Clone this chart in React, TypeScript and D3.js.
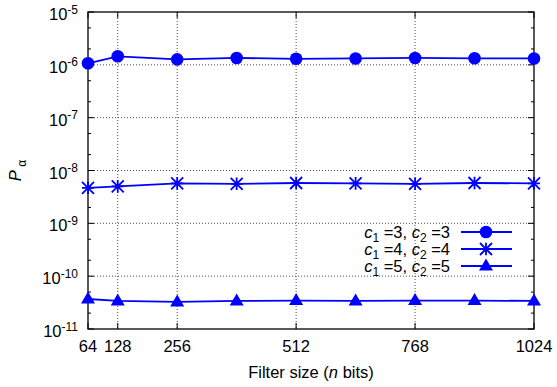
import { useEffect, useRef } from 'react'
import * as d3 from 'd3'

// filter sizes (n bits)
const sizes = [64, 128, 256, 384, 512, 640, 768, 896, 1024]
const xTicks = [64, 128, 256, 512, 768, 1024]
const yExponents = [-11, -10, -9, -8, -7, -6, -5]

// P_alpha for each (c1, c2)
const p33 = [1.07e-6, 1.45e-6, 1.27e-6, 1.35e-6, 1.3e-6, 1.32e-6, 1.35e-6, 1.33e-6, 1.32e-6]
const p44 = [4.7e-9, 5.0e-9, 5.7e-9, 5.6e-9, 5.8e-9, 5.7e-9, 5.6e-9, 5.8e-9, 5.7e-9]
const p55 = [3.7e-11, 3.4e-11, 3.25e-11, 3.4e-11, 3.45e-11, 3.4e-11, 3.45e-11, 3.45e-11, 3.4e-11]

const seriesLabels = [
  { c1: '3', c2: '3' },
  { c1: '4', c2: '4' },
  { c1: '5', c2: '5' }
]

const W = 557
const H = 387
const BLUE = '#0000ff'
const FONT = '"Liberation Sans", Arial, Helvetica, sans-serif'
const FS = 16.5
const FS_SMALL = 12

export default function App() {
  const svgRef = useRef<SVGSVGElement>(null)

  useEffect(() => {
    if (!svgRef.current) return
    const svg = d3.select(svgRef.current)
    svg.selectAll('*').remove()

    const left = 88, right = 534, top = 12, bottom = 329

    const x = d3.scaleLinear().domain([64, 1024]).range([left, right])
    const y = d3.scaleLog().domain([1e-11, 1e-5]).range([bottom, top])

    const g = svg.append('g').attr('font-family', FONT)

    // grid
    xTicks.slice(1, -1).forEach(t => {
      g.append('line')
        .attr('x1', x(t)).attr('x2', x(t))
        .attr('y1', top).attr('y2', bottom)
        .attr('stroke', '#222').attr('stroke-width', 0.8)
        .attr('stroke-dasharray', '1,2')
    })
    yExponents.slice(1, -1).forEach(e => {
      g.append('line')
        .attr('x1', left).attr('x2', right)
        .attr('y1', y(Math.pow(10, e))).attr('y2', y(Math.pow(10, e)))
        .attr('stroke', '#222').attr('stroke-width', 0.8)
        .attr('stroke-dasharray', '1,2')
    })

    // ticks (inward, mirrored)
    const tick = (x1: number, y1: number, x2: number, y2: number) =>
      g.append('line')
        .attr('x1', x1).attr('y1', y1).attr('x2', x2).attr('y2', y2)
        .attr('stroke', '#000').attr('stroke-width', 1)

    yExponents.forEach(e => {
      const yy = y(Math.pow(10, e))
      tick(left, yy, left + 6, yy)
      tick(right, yy, right - 6, yy)
      if (e < -5) {
        ;[2, 5].forEach(m => {
          const ym = y(m * Math.pow(10, e))
          tick(left, ym, left + 3, ym)
          tick(right, ym, right - 3, ym)
        })
      }
    })
    xTicks.forEach(t => {
      tick(x(t), bottom, x(t), bottom - 6)
      tick(x(t), top, x(t), top + 6)
    })

    // frame
    g.append('rect')
      .attr('x', left).attr('y', top)
      .attr('width', right - left).attr('height', bottom - top)
      .attr('fill', 'none').attr('stroke', '#000').attr('stroke-width', 1.3)

    // y tick labels
    yExponents.forEach(e => {
      const t = g.append('text')
        .attr('x', 78).attr('y', y(Math.pow(10, e)) + 8)
        .attr('text-anchor', 'end')
        .attr('font-size', FS)
        .attr('fill', '#000')
      t.append('tspan').text('10')
      t.append('tspan').attr('dy', -6.5).attr('font-size', FS_SMALL).text(String(e))
    })

    // x tick labels
    xTicks.forEach(t => {
      g.append('text')
        .attr('x', x(t)).attr('y', 352)
        .attr('text-anchor', 'middle')
        .attr('font-size', FS)
        .attr('fill', '#000')
        .text(String(t))
    })

    // axis titles
    const xl = g.append('text')
      .attr('x', (left + right) / 2).attr('y', 378)
      .attr('text-anchor', 'middle')
      .attr('font-size', FS)
    xl.append('tspan').text('Filter size (')
    xl.append('tspan').attr('font-style', 'italic').text('n')
    xl.append('tspan').text(' bits)')

    const yl = g.append('text')
      .attr('transform', `translate(21,${(top + bottom) / 2}) rotate(-90)`)
      .attr('text-anchor', 'middle')
      .attr('font-size', FS)
    yl.append('tspan').attr('font-style', 'italic').text('P')
    yl.append('tspan').attr('dy', 5).attr('font-size', FS_SMALL).text(' α')

    // markers
    const circle = (sel: d3.Selection<SVGGElement, unknown, null, undefined>) =>
      sel.append('circle').attr('r', 6.3).attr('fill', BLUE)
    const star = (sel: d3.Selection<SVGGElement, unknown, null, undefined>) =>
      sel.append('path')
        .attr('d', 'M-6,0H6M0,-6.3V6.3M-6,-6L6,6M-6,6L6,-6')
        .attr('stroke', BLUE).attr('stroke-width', 1.8).attr('fill', 'none')
    const tri = (sel: d3.Selection<SVGGElement, unknown, null, undefined>) =>
      sel.append('path').attr('d', 'M0,-7.5L7,4.5L-7,4.5Z').attr('fill', BLUE)

    const series = [
      { values: p33, marker: circle },
      { values: p44, marker: star },
      { values: p55, marker: tri }
    ]

    const line = d3.line<[number, number]>().x(d => x(d[0])).y(d => y(d[1]))

    series.forEach(s => {
      const pts = sizes.map((n, i) => [n, s.values[i]] as [number, number])
      g.append('path')
        .attr('d', line(pts))
        .attr('fill', 'none')
        .attr('stroke', BLUE)
        .attr('stroke-width', 1.8)
      pts.forEach(p => {
        const mg = g.append('g').attr('transform', `translate(${x(p[0])},${y(p[1])})`)
        s.marker(mg)
      })
    })

    // legend
    seriesLabels.forEach((lab, i) => {
      const ly = 232 + i * 17
      const t = g.append('text')
        .attr('x', 450).attr('y', ly + 5.5)
        .attr('text-anchor', 'end')
        .attr('font-size', FS)
      t.append('tspan').attr('font-style', 'italic').text('c')
      t.append('tspan').attr('font-size', FS_SMALL).attr('dy', 4).text('1')
      t.append('tspan').attr('dy', -4).text(` =${lab.c1}, `)
      t.append('tspan').attr('font-style', 'italic').text('c')
      t.append('tspan').attr('font-size', FS_SMALL).attr('dy', 4).text('2')
      t.append('tspan').attr('dy', -4).text(` =${lab.c2}`)

      g.append('line')
        .attr('x1', 461).attr('x2', 512)
        .attr('y1', ly).attr('y2', ly)
        .attr('stroke', BLUE).attr('stroke-width', 1.8)
      const mg = g.append('g').attr('transform', `translate(486,${ly})`)
      series[i].marker(mg)
    })
  }, [])

  return (
    <svg
      ref={svgRef}
      width={W}
      height={H}
      style={{ position: 'absolute', left: 0, top: 0, background: '#fff' }}
    />
  )
}
